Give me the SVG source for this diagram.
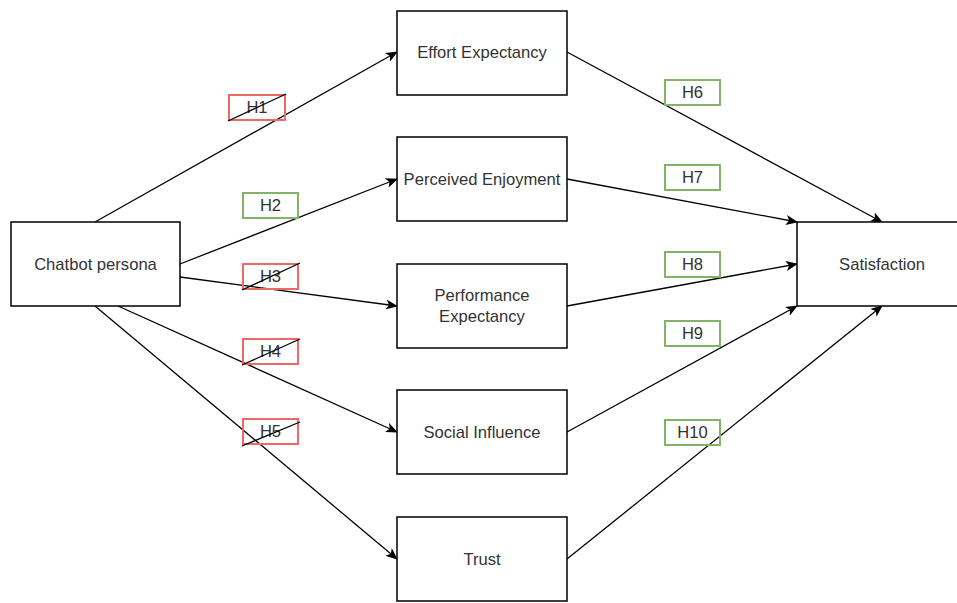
<svg xmlns="http://www.w3.org/2000/svg" width="957" height="603" viewBox="0 0 957 603">
<style>
.node rect{fill:#fff;stroke:#000;stroke-width:1.5}
.node text{font-family:"Liberation Sans",Arial,sans-serif;font-size:16.6px;fill:#333;text-anchor:middle;dominant-baseline:central}
.edges line{stroke:#000;stroke-width:1.3;marker-end:url(#arr)}
.lbl rect{fill:none;stroke-width:2}
.lbl text{font-family:"Liberation Sans",Arial,sans-serif;font-size:16.6px;fill:#333;text-anchor:middle;dominant-baseline:central}
.red rect{stroke:#EA6B66}
.green rect{stroke:#82B366}
.strike{stroke:#000;stroke-width:1.3}
</style>
<defs>
<marker id="arr" viewBox="0 0 12 10" refX="11" refY="5" markerWidth="12" markerHeight="10" markerUnits="userSpaceOnUse" orient="auto">
<path d="M0,0 L12,5 L0,10 L3,5 Z" fill="#000"/>
</marker>
</defs>
<rect width="957" height="603" fill="#fff"/>
<g class="edges">
<line x1="95" y1="222" x2="397" y2="52"/>
<line x1="180" y1="264" x2="397" y2="179"/>
<line x1="180" y1="277" x2="397" y2="306"/>
<line x1="118" y1="306" x2="397" y2="432"/>
<line x1="95" y1="306" x2="397" y2="559"/>
<line x1="567" y1="52" x2="882" y2="222"/>
<line x1="567" y1="179" x2="797" y2="222"/>
<line x1="567" y1="306" x2="797" y2="264"/>
<line x1="567" y1="432" x2="797" y2="306"/>
<line x1="567" y1="559" x2="882" y2="306"/>
</g>
<g id="chatbot" class="node"><rect x="11" y="222" width="169" height="84"/><text x="95.5" y="264">Chatbot persona</text></g>
<g id="effort" class="node"><rect x="397" y="11" width="170" height="84"/><text x="482" y="52">Effort Expectancy</text></g>
<g id="enjoyment" class="node"><rect x="397" y="137" width="170" height="84"/><text x="482" y="179">Perceived Enjoyment</text></g>
<g id="performance" class="node"><rect x="397" y="264" width="170" height="84"/><text x="482" y="295">Performance</text><text x="482" y="316">Expectancy</text></g>
<g id="social" class="node"><rect x="397" y="390" width="170" height="84"/><text x="482" y="432">Social Influence</text></g>
<g id="trust" class="node"><rect x="397" y="517" width="170" height="84"/><text x="482" y="559">Trust</text></g>
<g id="satisfaction" class="node"><rect x="797" y="222" width="170" height="84"/><text x="882" y="264">Satisfaction</text></g>
<g id="h1" class="lbl red"><rect x="229" y="95" width="56" height="25"/><text x="257" y="107.5">H1</text><line class="strike" x1="228" y1="121" x2="286" y2="94"/></g>
<g id="h2" class="lbl green"><rect x="243" y="193" width="55" height="25"/><text x="270.5" y="205.5">H2</text></g>
<g id="h3" class="lbl red"><rect x="243" y="264" width="55" height="25"/><text x="270.5" y="276.5">H3</text><line class="strike" x1="242" y1="290" x2="300" y2="263"/></g>
<g id="h4" class="lbl red"><rect x="243" y="339" width="55" height="25"/><text x="270.5" y="351.5">H4</text><line class="strike" x1="242" y1="365" x2="300" y2="339"/></g>
<g id="h5" class="lbl red"><rect x="243" y="419" width="55" height="25"/><text x="270.5" y="431.5">H5</text><line class="strike" x1="242" y1="446" x2="300" y2="422"/></g>
<g id="h6" class="lbl green"><rect x="665" y="80" width="55" height="25"/><text x="692.5" y="92.5">H6</text></g>
<g id="h7" class="lbl green"><rect x="665" y="165" width="55" height="25"/><text x="692.5" y="177.5">H7</text></g>
<g id="h8" class="lbl green"><rect x="665" y="252" width="55" height="25"/><text x="692.5" y="264.5">H8</text></g>
<g id="h9" class="lbl green"><rect x="665" y="321" width="55" height="25"/><text x="692.5" y="333.5">H9</text></g>
<g id="h10" class="lbl green"><rect x="665" y="420" width="55" height="25"/><text x="692.5" y="432.5">H10</text></g>
</svg>
